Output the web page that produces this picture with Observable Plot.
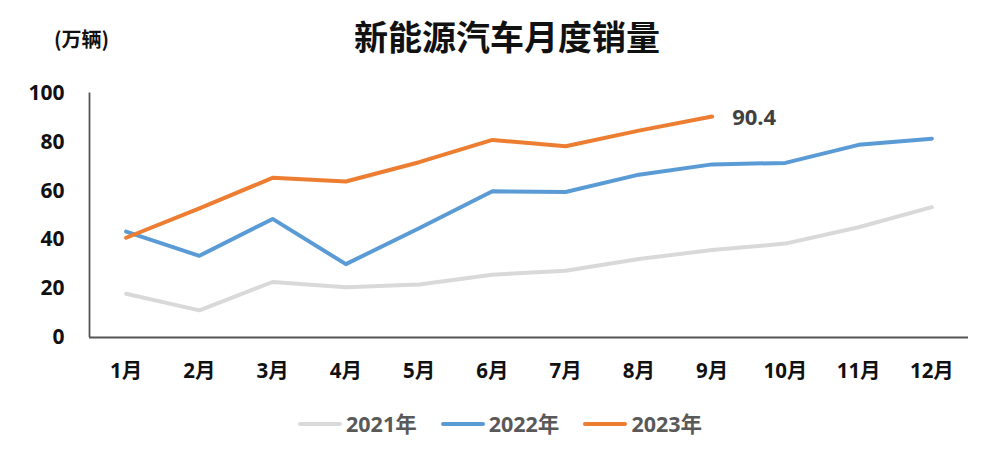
<!DOCTYPE html>
<html>
<head>
<meta charset="utf-8">
<script src="https://cdn.jsdelivr.net/npm/d3@7"></script>
<script src="https://cdn.jsdelivr.net/npm/@observablehq/plot@0.6"></script>
<style>
  html, body { margin: 0; padding: 0; background: #fff; }
  #wrap { position: relative; width: 1000px; height: 451px; overflow: hidden; font-family: "Open Sans", "Noto Sans CJK SC", sans-serif; }
  #title { position: absolute; left: 0; width: 1000px; top: 13px; text-align: center; font: bold 34px "Noto Sans CJK SC", sans-serif; color: #111; padding-left: 14px; box-sizing: border-box; line-height: 46px; }
  #unit { position: absolute; left: 54px; top: 24px; font: bold 20px "Noto Sans CJK SC", sans-serif; color: #111; line-height: 30px; }
  #chart { position: absolute; left: 0; top: 0; }
  #legend { position: absolute; left: 298px; top: 408px; display: flex; align-items: center; font: bold 21.5px "Open Sans", "Noto Sans CJK SC", sans-serif; color: #595959; line-height: 32px; }
  .item { display: flex; align-items: center; margin-right: 24px; }
  .sw { width: 44px; height: 4px; border-radius: 2px; margin-right: 4px; }
</style>
</head>
<body>
<div id="wrap">
  <div id="chart"></div>
  <div id="title"></div>
  <div id="unit"></div>
  <div id="legend"></div>
</div>
<script>
const title = "新能源汽车月度销量";
const unit = "(万辆)";
const months = ["1月","2月","3月","4月","5月","6月","7月","8月","9月","10月","11月","12月"];
const seriesNames = ["2021年","2022年","2023年"];
const colors = ["#d9d9d9","#5b9bd5","#ed7d31"];
const v2021 = [17.9, 11.1, 22.7, 20.6, 21.7, 25.7, 27.3, 32.1, 35.8, 38.4, 45.1, 53.3];
const v2022 = [43.3, 33.4, 48.5, 30.0, 44.7, 59.8, 59.5, 66.6, 70.8, 71.4, 78.8, 81.3];
const v2023 = [40.8, 52.8, 65.3, 63.8, 71.7, 80.8, 78.2, 84.6, 90.4];
const yTicks = [0, 20, 40, 60, 80, 100];

document.getElementById("title").textContent = title;
document.getElementById("unit").textContent = unit;

const allSeries = [v2021, v2022, v2023];
const rows = [];
allSeries.forEach((vals, si) => vals.forEach((v, i) => rows.push({series: seriesNames[si], m: i + 1, v})));
const last2023 = {m: v2023.length, v: v2023[v2023.length - 1]};

const chart = Plot.plot({
  width: 1000,
  height: 451,
  marginLeft: 89,
  marginRight: 32,
  marginTop: 92.5,
  marginBottom: 114,
  style: {fontFamily: "'Open Sans', 'Noto Sans CJK SC', sans-serif", background: "transparent"},
  x: {type: "linear", domain: [0.5, 12.5]},
  y: {domain: [0, 100]},
  color: {domain: seriesNames, range: colors},
  marks: [
    Plot.axisX({ticks: d3.range(1, 13), tickFormat: d => months[d - 1], tickSize: 0, tickPadding: 26, fontSize: 20.5, fontWeight: "bold", fill: "#111", label: null}),
    Plot.axisY({ticks: yTicks, tickSize: 0, tickPadding: 25, fontSize: 21, fontWeight: "bold", fill: "#111", label: null}),
    Plot.ruleY([0], {stroke: "#555", strokeWidth: 1.8}),
    Plot.ruleX([0.5], {y1: 0, y2: 100, stroke: "#555", strokeWidth: 1.8}),
    Plot.line(rows, {x: "m", y: "v", z: "series", stroke: "series", strokeWidth: 4, curve: "linear", strokeLinejoin: "round"}),
    Plot.text([last2023], {x: "m", y: "v", text: d => String(d.v), dx: 20, dy: 1, textAnchor: "start", fontSize: 22, fontWeight: "bold", fill: "#404040"})
  ]
});
document.getElementById("chart").appendChild(chart);

const legend = document.getElementById("legend");
seriesNames.forEach((name, i) => {
  const item = document.createElement("div");
  item.className = "item";
  const sw = document.createElement("div");
  sw.className = "sw";
  sw.style.background = colors[i];
  const t = document.createElement("span");
  t.textContent = name;
  item.appendChild(sw);
  item.appendChild(t);
  legend.appendChild(item);
});
</script>
</body>
</html>
